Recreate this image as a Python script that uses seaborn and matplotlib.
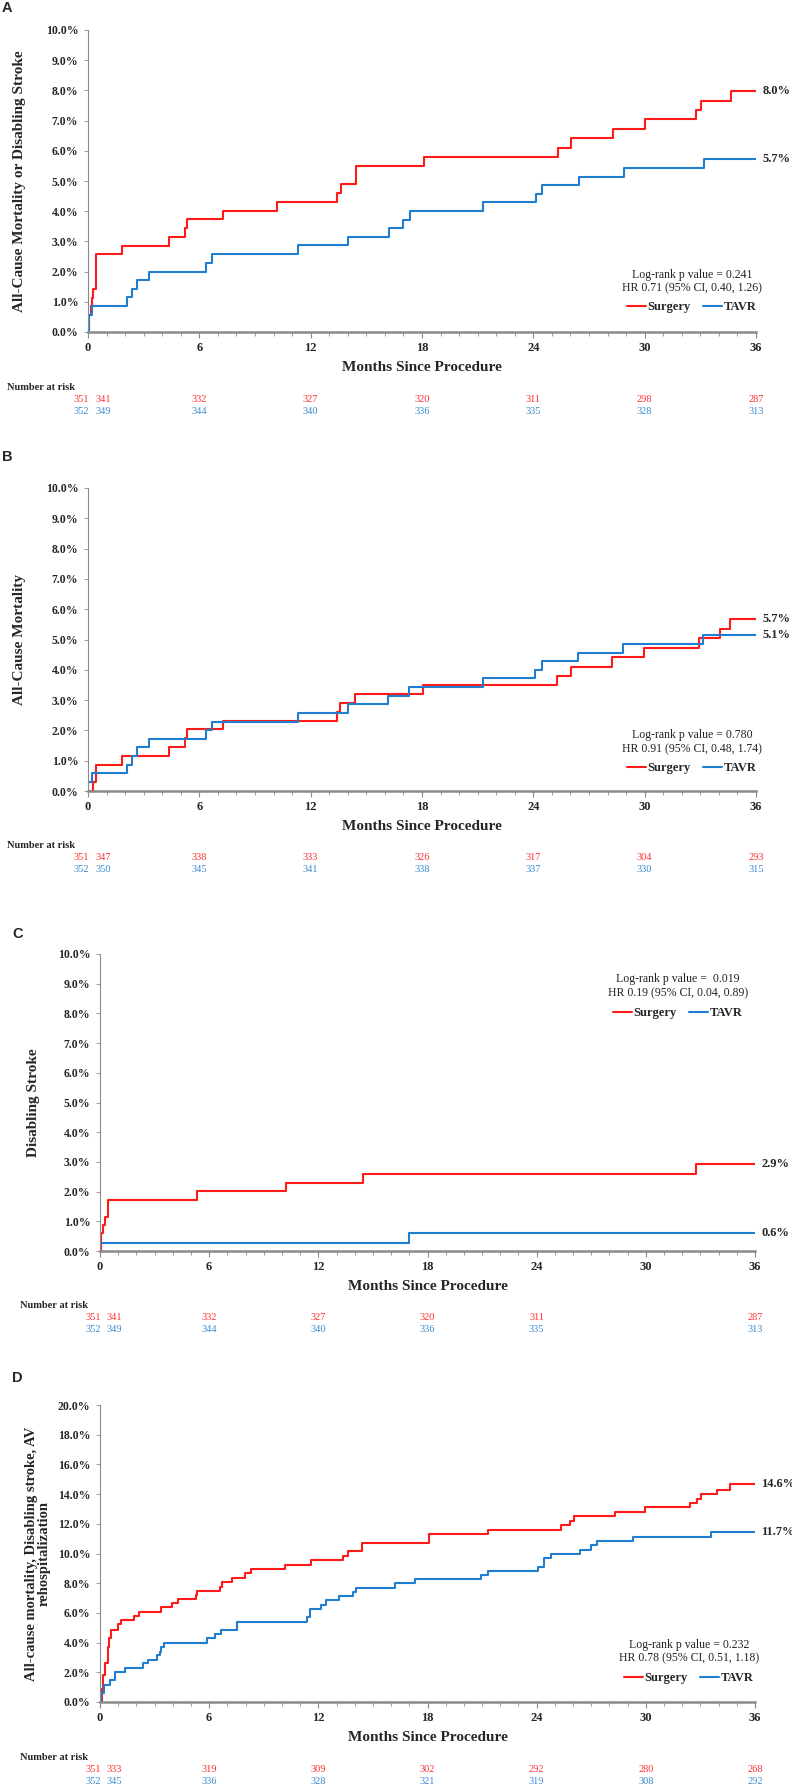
import matplotlib
matplotlib.use("Agg")
import matplotlib.pyplot as plt
import matplotlib.transforms as mtransforms
from matplotlib.ticker import MultipleLocator, FuncFormatter
import seaborn as sns
import pandas as pd

sns.set_style("white")
plt.rcParams["font.family"] = ["Liberation Serif", "DejaVu Serif"]

RED = "#ff1a1a"
BLUE = "#1f7ed0"
RISK_RED = "#ff3030"
RISK_BLUE = "#3a8ad0"

# ---- Panel A: all-cause mortality or disabling stroke (months, cumulative %)
a_sur_t = [0, 0.05, 0.14, 0.22, 0.29, 0.45, 1.81, 4.37, 5.23, 5.34, 7.26, 10.2, 13.4, 13.62,
           14.43, 18.1, 25.33, 26.05, 28.27, 30.02, 32.77, 33.02, 34.65, 36]
a_sur_v = [0, 0.57, 0.86, 1.14, 1.43, 2.57, 2.86, 3.15, 3.43, 3.73, 4.02, 4.31, 4.61, 4.91,
           5.50, 5.80, 6.10, 6.41, 6.72, 7.04, 7.35, 7.66, 7.98, 7.98]
a_tav_t = [0, 0.05, 0.2, 2.08, 2.35, 2.62, 3.29, 6.34, 6.70, 11.3, 14.03, 16.22, 16.99, 17.35,
           21.3, 24.13, 24.45, 26.44, 28.87, 33.2, 36]
a_tav_v = [0, 0.57, 0.86, 1.15, 1.43, 1.72, 2.0, 2.30, 2.58, 2.87, 3.16, 3.43, 3.71, 4.0,
           4.29, 4.57, 4.87, 5.14, 5.42, 5.72, 5.72]

# ---- Panel B: all-cause mortality
b_sur_t = [0, 0.25, 0.45, 1.81, 4.37, 5.23, 5.35, 7.26, 13.4, 13.6, 14.39, 18.07, 25.29, 26.01,
           28.24, 29.98, 32.94, 34.06, 34.6, 36]
b_sur_v = [0, 0.29, 0.86, 1.15, 1.44, 1.74, 2.03, 2.32, 2.62, 2.91, 3.2, 3.49, 3.80, 4.10,
           4.41, 4.73, 5.04, 5.36, 5.68, 5.68]
b_tav_t = [0, 0.02, 0.2, 2.08, 2.35, 2.62, 3.29, 6.34, 6.70, 11.3, 14.03, 16.18, 17.32, 21.27,
           24.09, 24.45, 26.4, 28.85, 33.16, 36]
b_tav_v = [0, 0.29, 0.58, 0.86, 1.15, 1.44, 1.71, 2.0, 2.29, 2.56, 2.86, 3.14, 3.42, 3.72,
           3.99, 4.29, 4.56, 4.85, 5.15, 5.15]

# ---- Panel C: disabling stroke
c_sur_t = [0, 0.04, 0.07, 0.15, 0.26, 0.44, 5.35, 10.23, 14.44, 32.77, 36]
c_sur_v = [0, 0.29, 0.59, 0.87, 1.15, 1.73, 2.02, 2.30, 2.59, 2.93, 2.93]
c_tav_t = [0, 0.02, 16.99, 36]
c_tav_v = [0, 0.28, 0.6, 0.6]

# ---- Panel D: all-cause mortality, disabling stroke, AV rehospitalization
d_sur_t = [0, 0.1, 0.19, 0.3, 0.42, 0.52, 0.63, 0.98, 1.15, 1.85, 2.13, 3.33, 3.94, 4.3, 5.25,
           5.33, 6.58, 6.72, 7.27, 7.97, 8.3, 10.19, 11.57, 13.38, 13.65, 14.4, 18.1, 21.35,
           25.32, 25.82, 26.07, 28.29, 29.98, 32.43, 32.82, 33.04, 33.93, 34.62, 36]
d_sur_v = [0, 0.9, 1.8, 2.6, 3.7, 4.3, 4.85, 5.25, 5.5, 5.8, 6.08, 6.37, 6.64, 6.93, 7.2,
           7.5, 7.77, 8.06, 8.33, 8.67, 8.96, 9.25, 9.55, 9.85, 10.15, 10.7, 11.3, 11.6,
           11.9, 12.2, 12.5, 12.8, 13.1, 13.4, 13.7, 14.0, 14.3, 14.65, 14.65]
d_tav_t = [0, 0.05, 0.2, 0.54, 0.85, 1.37, 2.36, 2.63, 3.16, 3.29, 3.38, 3.52, 5.88, 6.3, 6.66,
           7.55, 11.35, 11.52, 12.15, 12.4, 13.15, 13.88, 14.07, 16.2, 17.3, 20.96, 21.3, 24.1,
           24.4, 24.8, 26.4, 27.0, 27.3, 29.3, 33.6, 36]
d_tav_v = [0, 0.6, 1.15, 1.45, 2.0, 2.3, 2.6, 2.85, 3.15, 3.4, 3.7, 4.0, 4.3, 4.55, 4.85,
           5.4, 5.7, 6.25, 6.55, 6.85, 7.15, 7.4, 7.7, 8.0, 8.25, 8.55, 8.85, 9.1,
           9.7, 10.0, 10.25, 10.55, 10.85, 11.1, 11.45, 11.45]

# ---- Number at risk
risk_months = [-0.35, 0.8, 6, 12, 18, 24, 30, 36]
a_risk_sur = [351, 341, 332, 327, 320, 311, 298, 287]
a_risk_tav = [352, 349, 344, 340, 336, 335, 328, 313]
b_risk_sur = [351, 347, 338, 333, 326, 317, 304, 293]
b_risk_tav = [352, 350, 345, 341, 338, 337, 330, 315]
c_risk_sur = [351, 341, 332, 327, 320, 311, None, 287]
c_risk_tav = [352, 349, 344, 340, 336, 335, None, 313]
d_risk_sur = [351, 333, 319, 309, 302, 292, 280, 268]
d_risk_tav = [352, 345, 336, 328, 321, 319, 308, 292]

W, H = 792, 1786
fig = plt.figure(figsize=(W / 100, H / 100), dpi=100)


def px_axes(left, top, right, bottom):
    return fig.add_axes([left / W, 1 - bottom / H, (right - left) / W, (bottom - top) / H])


def draw_panel(ax, sur_t, sur_v, tav_t, tav_v, ymax, ystep, ylabel, ylab_x, ylab_size,
               stats, stats_x, stats_y, leg_y, end_labels, risk_sur, risk_tav):
    df = pd.concat([
        pd.DataFrame({"month": sur_t, "pct": sur_v, "arm": "Surgery"}),
        pd.DataFrame({"month": tav_t, "pct": tav_v, "arm": "TAVR"}),
    ])
    sns.lineplot(data=df, x="month", y="pct", hue="arm", palette={"Surgery": RED, "TAVR": BLUE},
                 drawstyle="steps-post", estimator=None, sort=False, lw=1.5, legend=False, ax=ax)
    ax.set_xlim(0, 36)
    ax.set_ylim(0, ymax)
    ax.margins(0)
    sns.despine(ax=ax)
    ax.spines["bottom"].set_color("#8a8a8a")
    ax.spines["bottom"].set_linewidth(1.8)
    ax.spines["left"].set_color("#8a8a8a")
    ax.spines["left"].set_linewidth(0.8)
    ax.xaxis.set_major_locator(MultipleLocator(6))
    ax.xaxis.set_minor_locator(MultipleLocator(1))
    ax.yaxis.set_major_locator(MultipleLocator(ystep))
    ax.yaxis.set_major_formatter(FuncFormatter(lambda v, p: f"{v:.1f}%"))
    ax.tick_params(axis="x", which="major", length=4, width=0.8, color="#8a8a8a", pad=3,
                   labelsize=9)
    ax.tick_params(axis="x", which="minor", length=3, width=0.6, color="#8a8a8a")
    ax.tick_params(axis="y", which="major", length=3, width=0.6, color="#8a8a8a", pad=4,
                   labelsize=8.5)
    ax.tick_params(left=True, bottom=True, which="both")
    for lab in ax.get_xticklabels() + ax.get_yticklabels():
        lab.set_fontweight("bold")
    ax.set_xlabel("Months Since Procedure", fontsize=11, fontweight="bold", labelpad=5)
    ax.set_ylabel("")
    ax.text(ylab_x, 0.5, ylabel, transform=ax.transAxes, rotation=90, ha="center", va="center",
            fontsize=ylab_size, fontweight="bold", multialignment="center", linespacing=1.0)

    ax.text(stats_x, stats_y[0], stats[0], transform=ax.transAxes, ha="center", va="center",
            fontsize=8.5, color="#222222")
    ax.text(stats_x, stats_y[1], stats[1], transform=ax.transAxes, ha="center", va="center",
            fontsize=8.5, color="#222222")
    ax.legend(handles=ax.lines[:2], labels=["Surgery", "TAVR"], loc="center",
              bbox_to_anchor=(stats_x, leg_y), ncol=2, frameon=False, handlelength=1.5,
              handletextpad=0.15, columnspacing=1.0, borderpad=0,
              prop={"weight": "bold", "size": 9})

    for val, txt in end_labels:
        ax.text(36.35, val, txt, ha="left", va="center", fontsize=9, fontweight="bold",
                clip_on=False)

    # number at risk table below axis
    h_px = ax.get_position().height * H
    trans = mtransforms.blended_transform_factory(ax.transData, ax.transAxes)
    x0_px = ax.get_position().x0 * W
    ax.text(-(x0_px - (7 if x0_px < 95 else 20)) / (ax.get_position().width * W / 36),
            -55 / h_px, "Number at risk", transform=trans, ha="left", va="center",
            fontsize=7.5, fontweight="bold")
    for m, rs, rt in zip(risk_months, risk_sur, risk_tav):
        if rs is not None:
            ax.text(m, -67 / h_px, str(rs), transform=trans, ha="center", va="center",
                    fontsize=7.5, color=RISK_RED)
        if rt is not None:
            ax.text(m, -79 / h_px, str(rt), transform=trans, ha="center", va="center",
                    fontsize=7.5, color=RISK_BLUE)


ax_a = px_axes(88, 30, 756, 332)
draw_panel(ax_a, a_sur_t, a_sur_v, a_tav_t, a_tav_v, 10, 1,
           "All-Cause Mortality or Disabling Stroke", -0.102, 11,
           ["Log-rank p value = 0.241", "HR 0.71 (95% CI, 0.40, 1.26)"],
           0.904, [0.189, 0.146], 0.083,
           [(7.98, "8.0%"), (5.72, "5.7%")], a_risk_sur, a_risk_tav)

ax_b = px_axes(88, 488, 756, 791)
draw_panel(ax_b, b_sur_t, b_sur_v, b_tav_t, b_tav_v, 10, 1,
           "All-Cause Mortality", -0.102, 11,
           ["Log-rank p value = 0.780", "HR 0.91 (95% CI, 0.48, 1.74)"],
           0.904, [0.185, 0.139], 0.076,
           [(5.68, "5.7%"), (5.15, "5.1%")], b_risk_sur, b_risk_tav)

ax_c = px_axes(100, 954, 755, 1251)
draw_panel(ax_c, c_sur_t, c_sur_v, c_tav_t, c_tav_v, 10, 1,
           "Disabling Stroke", -0.102, 11,
           ["Log-rank p value =  0.019", "HR 0.19 (95% CI, 0.04, 0.89)"],
           0.882, [0.916, 0.869], 0.801,
           [(2.93, "2.9%"), (0.6, "0.6%")], c_risk_sur, c_risk_tav)

ax_d = px_axes(100, 1405, 755, 1702)
draw_panel(ax_d, d_sur_t, d_sur_v, d_tav_t, d_tav_v, 20, 2,
           "All-cause mortality, Disabling stroke, AV\nrehospitalization", -0.095, 10.5,
           ["Log-rank p value = 0.232", "HR 0.78 (95% CI, 0.51, 1.18)"],
           0.899, [0.192, 0.148], 0.081,
           [(14.65, "14.6%"), (11.45, "11.7%")], d_risk_sur, d_risk_tav)

for letter, x, y in [("A", 2, 8), ("B", 2, 457), ("C", 12, 934), ("D", 12, 1378)]:
    fig.text(x / W, 1 - y / H, letter, ha="left", va="center", fontsize=10.5,
             fontweight="bold", family=["Liberation Sans", "DejaVu Sans"])

fig.savefig("out.png", dpi=100, facecolor="white")
